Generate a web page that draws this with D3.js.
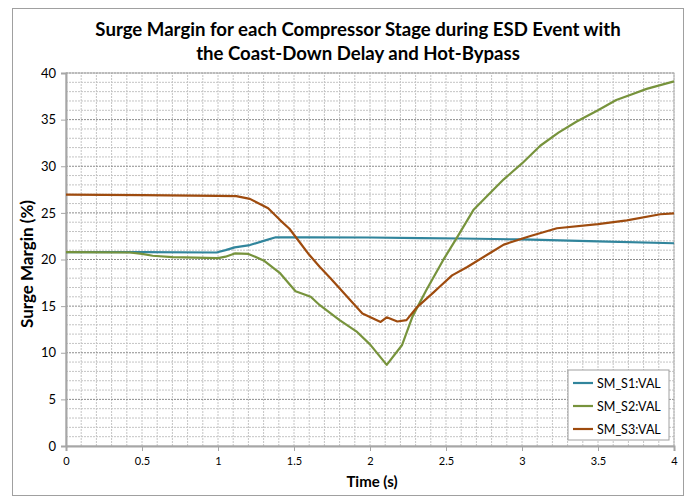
<!DOCTYPE html>
<html>
<head>
<meta charset="utf-8">
<script src="https://cdn.jsdelivr.net/npm/d3@7"></script>
<style>
  body { margin: 0; background: #fff; }
  svg text { font-family: Lato, "Open Sans", sans-serif; }
</style>
</head>
<body>
<div id="chart"></div>
<script>
// series: time (s) and surge margin (%)
const s1Time = [0, 0.5, 0.99, 1.05, 1.11, 1.21, 1.30, 1.38, 1.6, 2.0, 2.33, 2.6, 3.0, 3.5, 4.0];
const s1Vals = [20.8, 20.8, 20.75, 21.0, 21.3, 21.55, 22.0, 22.38, 22.38, 22.36, 22.3, 22.25, 22.15, 21.95, 21.74];

const s2Time = [0, 0.42, 0.5, 0.57, 0.7, 0.85, 1.0, 1.05, 1.11, 1.2, 1.3, 1.41, 1.51, 1.61, 1.67, 1.8, 1.91, 2.0, 2.11, 2.21, 2.28, 2.37, 2.48, 2.57, 2.68, 2.8, 2.88, 3.0, 3.12, 3.24, 3.36, 3.5, 3.62, 3.72, 3.82, 3.91, 4.0];
const s2Vals = [20.8, 20.75, 20.6, 20.4, 20.25, 20.2, 20.15, 20.3, 20.65, 20.6, 19.9, 18.5, 16.6, 16.0, 15.1, 13.5, 12.3, 10.9, 8.7, 10.8, 13.9, 16.7, 19.9, 22.3, 25.3, 27.3, 28.6, 30.3, 32.2, 33.6, 34.8, 36.0, 37.1, 37.7, 38.3, 38.7, 39.1];

const s3Time = [0, 0.5, 1.0, 1.12, 1.21, 1.33, 1.41, 1.47, 1.54, 1.6, 1.67, 1.74, 1.85, 1.95, 2.07, 2.11, 2.18, 2.24, 2.31, 2.42, 2.46, 2.54, 2.64, 2.79, 2.88, 3.05, 3.23, 3.5, 3.69, 3.91, 4.0];
const s3Vals = [26.95, 26.9, 26.82, 26.8, 26.5, 25.5, 24.2, 23.3, 21.8, 20.5, 19.2, 18.0, 16.0, 14.2, 13.3, 13.8, 13.35, 13.5, 14.9, 16.5, 17.1, 18.3, 19.2, 20.7, 21.6, 22.5, 23.35, 23.8, 24.2, 24.85, 24.95];

const seriesNames = ["SM_S1:VAL", "SM_S2:VAL", "SM_S3:VAL"];
const seriesColors = ["#31859c", "#77933c", "#9e4b0e"];

const xTicks = [0, 0.5, 1, 1.5, 2, 2.5, 3, 3.5, 4];
const yTicks = [0, 5, 10, 15, 20, 25, 30, 35, 40];

const width = 697, height = 499;
const margin = {left: 66, right: 23, top: 73, bottom: 53};

const svg = d3.select("#chart").append("svg")
  .attr("width", width)
  .attr("height", height);

// chart frame
svg.append("rect")
  .attr("x", 12.5).attr("y", 8.5)
  .attr("width", 671).attr("height", 487)
  .attr("fill", "#fff")
  .attr("stroke", "#a0a0a0");

const x = d3.scaleLinear().domain([0, 4]).range([margin.left, width - margin.right]);
const y = d3.scaleLinear().domain([0, 40]).range([height - margin.bottom, margin.top]);

// grid
const grid = svg.append("g");
grid.selectAll(".vminor")
  .data(d3.range(1, 41).map(i => i / 10))
  .join("line")
  .attr("x1", d => x(d)).attr("x2", d => x(d))
  .attr("y1", y(0)).attr("y2", y(40))
  .attr("stroke", "#c4c4c4")
  .attr("stroke-dasharray", "2,1");
grid.selectAll(".hminor")
  .data(d3.range(1, 41).filter(d => d % 5 != 0))
  .join("line")
  .attr("x1", x(0)).attr("x2", x(4))
  .attr("y1", d => y(d)).attr("y2", d => y(d))
  .attr("stroke", "#c4c4c4")
  .attr("stroke-dasharray", "2,1");
grid.selectAll(".hmajor")
  .data(yTicks.slice(1))
  .join("line")
  .attr("x1", x(0)).attr("x2", x(4))
  .attr("y1", d => y(d)).attr("y2", d => y(d))
  .attr("stroke", "#8c8c8c")
  .attr("stroke-dasharray", "2,1");
// plot area border (top/right)
svg.append("rect")
  .attr("x", x(0)).attr("y", y(40))
  .attr("width", x(4) - x(0)).attr("height", y(0) - y(40))
  .attr("fill", "none")
  .attr("stroke", "#b0b0b0");

// axes
const xAxis = svg.append("g")
  .attr("transform", `translate(0,${y(0)})`)
  .call(d3.axisBottom(x).tickValues(xTicks).tickFormat(d3.format("")).tickSize(5).tickPadding(6));
const yAxis = svg.append("g")
  .attr("transform", `translate(${x(0)},0)`)
  .call(d3.axisLeft(y).tickValues(yTicks).tickSize(5).tickPadding(5));
[xAxis, yAxis].forEach(a => {
  a.select(".domain").attr("stroke", "#a6a6a6").attr("stroke-width", 2);
  a.selectAll(".tick line").attr("stroke", "#a6a6a6");
  a.selectAll(".tick text").attr("fill", "#000").style("font-size", "13px")
    .style("font-family", "Lato, 'Open Sans', sans-serif");
});
xAxis.selectAll(".tick text").style("font-size", "11px");

// lines
const line = d3.line().x(d => x(d[0])).y(d => y(d[1]));
const series = [
  d3.zip(s1Time, s1Vals),
  d3.zip(s2Time, s2Vals),
  d3.zip(s3Time, s3Vals)
];
svg.append("g").selectAll("path")
  .data(series)
  .join("path")
  .attr("d", line)
  .attr("fill", "none")
  .attr("stroke", (d, i) => seriesColors[i])
  .attr("stroke-width", 2.2)
  .attr("stroke-linejoin", "round");

// title
svg.append("text")
  .attr("x", 358).attr("y", 36)
  .attr("text-anchor", "middle")
  .style("font-size", "18.6px").style("font-weight", "bold")
  .text("Surge Margin for each Compressor Stage during ESD Event with");
svg.append("text")
  .attr("x", 358).attr("y", 60)
  .attr("text-anchor", "middle")
  .style("font-size", "18.6px").style("font-weight", "bold")
  .text("the Coast-Down Delay and Hot-Bypass");

// axis titles
svg.append("text")
  .attr("transform", `translate(33,264) rotate(-90)`)
  .attr("text-anchor", "middle")
  .style("font-size", "17px").style("font-weight", "bold")
  .text("Surge Margin (%)");
svg.append("text")
  .attr("x", 372).attr("y", 487)
  .attr("text-anchor", "middle")
  .style("font-size", "15px").style("font-weight", "bold")
  .text("Time (s)");

// legend
const legend = svg.append("g").attr("transform", "translate(568,370)");
legend.append("rect")
  .attr("width", 101).attr("height", 70)
  .attr("fill", "#fff")
  .attr("stroke", "#a0a0a0");
seriesNames.forEach((name, i) => {
  const g = legend.append("g").attr("transform", `translate(0,${13 + i * 23})`);
  g.append("line")
    .attr("x1", 5).attr("x2", 25)
    .attr("stroke", seriesColors[i]).attr("stroke-width", 2.2);
  g.append("text")
    .attr("x", 29).attr("y", 4.5)
    .style("font-size", "12.5px")
    .text(name);
});
</script>
</body>
</html>
